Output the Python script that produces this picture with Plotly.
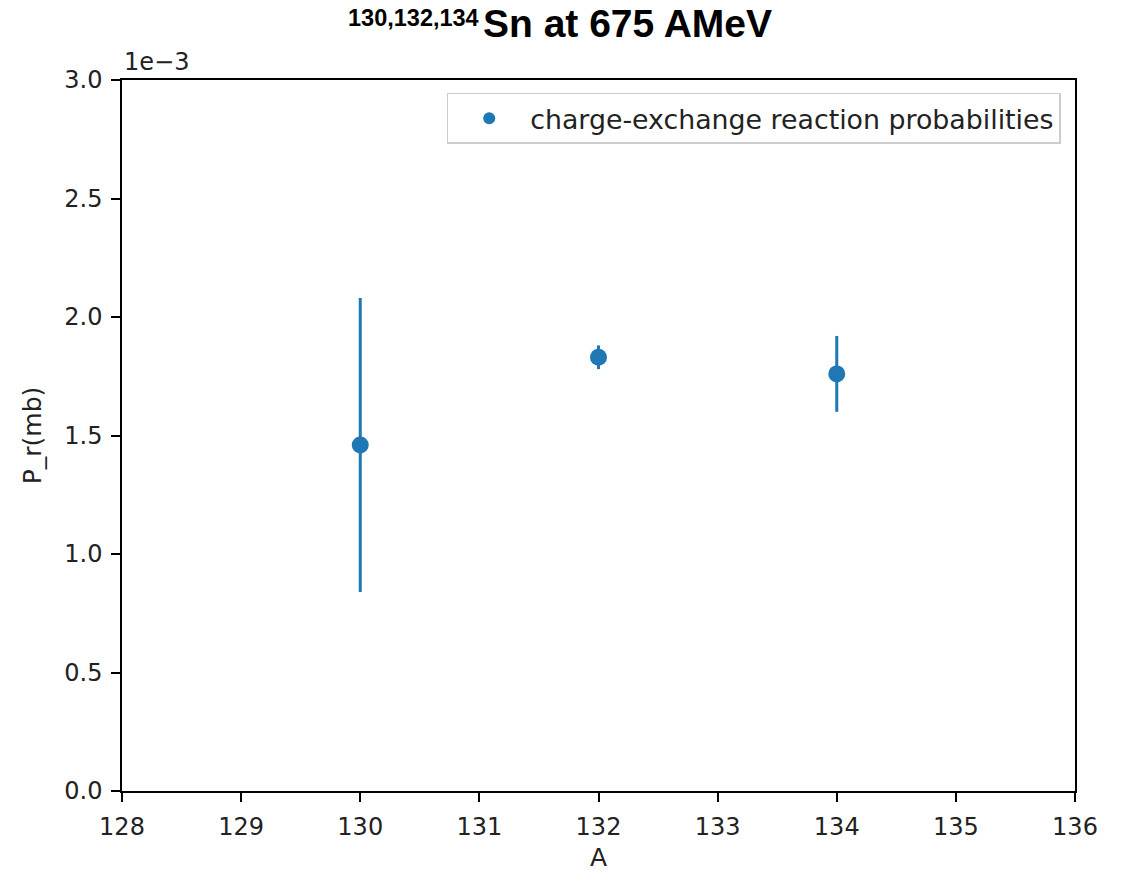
import plotly.graph_objects as go

# Mass numbers of the tin isotopes and their charge-exchange reaction probabilities
mass_number = [130, 132, 134]
probability = [1.46e-3, 1.83e-3, 1.76e-3]
probability_err = [0.62e-3, 0.05e-3, 0.16e-3]

x_ticks = [128, 129, 130, 131, 132, 133, 134, 135, 136]
y_ticks = [0.0, 0.5e-3, 1.0e-3, 1.5e-3, 2.0e-3, 2.5e-3, 3.0e-3]
y_tick_text = ["0.0", "0.5", "1.0", "1.5", "2.0", "2.5", "3.0"]

title_main = "Sn at 675 AMeV"
title_isotopes = "130,132,134"

blue = "#1f77b4"
ink = "#222222"
tick_font = dict(family="DejaVu Sans", size=24, color=ink)
label_font = dict(family="DejaVu Sans", size=25, color=ink)
legend_font = dict(family="DejaVu Sans", size=26.8, color=ink)

W, H = 1123, 872
L, R, T, B = 122, 48, 80, 81
plot_w, plot_h = W - L - R, H - T - B


def px_x(px):
    """Horizontal pixel position -> paper coordinate."""
    return (px - L) / plot_w


def px_y(py):
    """Vertical pixel position (from top) -> paper coordinate."""
    return (H - B - py) / plot_h


fig = go.Figure()
fig.add_trace(go.Scatter(
    x=mass_number,
    y=probability,
    mode="markers",
    name="charge-exchange reaction probabilities",
    marker=dict(color=blue, size=17),
    error_y=dict(type="data", array=probability_err, visible=True,
                 color=blue, thickness=3, width=0),
))

axis_common = dict(
    showgrid=False, zeroline=False, showline=True, mirror=True,
    linecolor="black", linewidth=1.5,
    ticks="outside", ticklen=9, tickwidth=1.5, tickcolor="black",
    tickfont=tick_font, ticklabelstandoff=4, automargin=False,
)

fig.update_layout(
    width=W, height=H,
    paper_bgcolor="white", plot_bgcolor="white",
    margin=dict(l=L, r=R, t=T, b=B),
    font=tick_font,
    xaxis=dict(range=[128, 136], tickvals=x_ticks,
               title=dict(text="A", font=label_font, standoff=14),
               **axis_common),
    yaxis=dict(range=[0, 3.0e-3], tickvals=y_ticks, ticktext=y_tick_text,
               title=dict(text="P_r(mb)", font=label_font, standoff=16),
               **axis_common),
    showlegend=True,
    legend=dict(
        x=0.985, y=0.982, xanchor="right", yanchor="top",
        bgcolor="white", bordercolor="#cccccc", borderwidth=1.5,
        font=legend_font, itemsizing="constant", itemwidth=72,
    ),
    annotations=[
        # axis offset label
        dict(text="1e\u22123", xref="paper", yref="paper", x=0, y=1,
             xanchor="left", yanchor="bottom", showarrow=False,
             font=tick_font, yshift=2),
        # figure title: mass numbers followed by the main text
        dict(text=f"<b>{title_isotopes}</b>", xref="paper", yref="paper",
             x=px_x(481), y=px_y(18), xanchor="right", yanchor="middle",
             showarrow=False,
             font=dict(family="Liberation Sans", size=23.5, color="black")),
        dict(text=f"<b>{title_main}</b>", xref="paper", yref="paper",
             x=px_x(481), y=px_y(23), xanchor="left", yanchor="middle",
             showarrow=False,
             font=dict(family="Liberation Sans", size=39, color="black")),
    ],
)

fig.write_html("out.html")
